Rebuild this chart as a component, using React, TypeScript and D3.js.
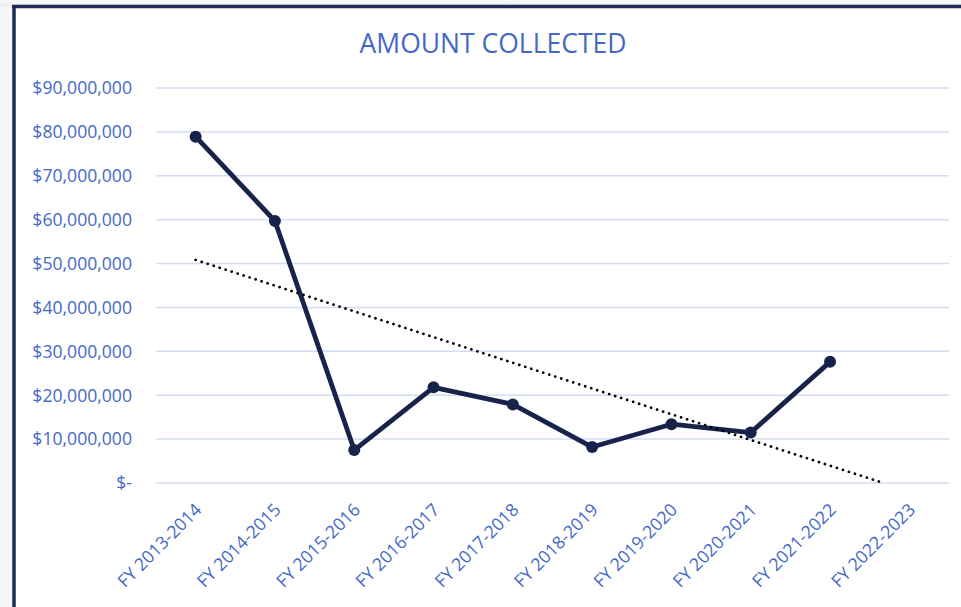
import React from "react";
import * as d3 from "d3";

const categories = [
  "FY 2013-2014", "FY 2014-2015", "FY 2015-2016", "FY 2016-2017", "FY 2017-2018",
  "FY 2018-2019", "FY 2019-2020", "FY 2020-2021", "FY 2021-2022", "FY 2022-2023",
];
const amounts: (number | null)[] = [
  78.9e6, 59.7e6, 7.5e6, 21.8e6, 17.9e6, 8.2e6, 13.4e6, 11.5e6, 27.6e6, null,
];
const yTicks = [0, 10e6, 20e6, 30e6, 40e6, 50e6, 60e6, 70e6, 80e6, 90e6];
const title = "AMOUNT COLLECTED";

const W = 961, H = 607;
const plot = { left: 156, right: 949, top: 88, bottom: 483 };
const TEXT = "#4469C6";
const LINE = "#18234B";
const FONT = "'Open Sans', sans-serif";

export default function App() {
  const x = d3.scaleBand<string>().domain(categories).range([plot.left, plot.right]);
  const cx = (c: string) => (x(c) as number) + x.bandwidth() / 2;
  const y = d3.scaleLinear().domain([0, 90e6]).range([plot.bottom, plot.top]);
  const fmt = (v: number) => (v === 0 ? "$-" : "$" + d3.format(",")(v));

  const pts = categories
    .map((c, i) => ({ c, i: i + 1, v: amounts[i] }))
    .filter((p) => p.v != null) as { c: string; i: number; v: number }[];

  const line = d3
    .line<{ c: string; v: number }>()
    .x((d) => cx(d.c))
    .y((d) => y(d.v));

  // linear trendline (least squares), forecast forward one period, clipped at the axis
  const n = pts.length;
  const mx = d3.mean(pts, (p) => p.i) as number;
  const my = d3.mean(pts, (p) => p.v) as number;
  const sxy = d3.sum(pts, (p) => (p.i - mx) * (p.v - my));
  const sxx = d3.sum(pts, (p) => (p.i - mx) ** 2);
  const slope = sxy / sxx;
  const icpt = my - slope * mx;
  const idxScale = d3.scaleLinear().domain([1, categories.length]).range([cx(categories[0]), cx(categories[categories.length - 1])]);
  const x0 = 1;
  let x1 = n + 1;
  if (icpt + slope * x1 < 0) x1 = -icpt / slope;
  const tx1 = idxScale(x0), ty1 = y(icpt + slope * x0);
  const tx2 = idxScale(x1), ty2 = y(icpt + slope * x1);

  return (
    <svg width={W} height={H} style={{ position: "absolute", left: 0, top: 0, display: "block" }}>
      <defs>
        <linearGradient id="bgTop" x1="0" y1="0" x2="0" y2="1">
          <stop offset="0" stopColor="#f7f7f7" />
          <stop offset="1" stopColor="#ececec" />
        </linearGradient>
      </defs>
      <rect x={0} y={0} width={W} height={H} fill="#f6f6f6" />
      <rect x={0} y={0} width={W} height={7} fill="url(#bgTop)" />
      <rect x={14} y={7} width={W - 14} height={H - 7} fill="#ffffff" />
      <line x1={12} x2={W} y1={6.5} y2={6.5} stroke="#1E2A56" strokeWidth={3.5} />
      <line x1={14} x2={14} y1={5} y2={H} stroke="#1E2A56" strokeWidth={3.5} />

      <text x={493} y={53} textAnchor="middle" fill={TEXT} fontFamily={FONT} fontSize={26.5}>
        {title}
      </text>

      {yTicks.map((t) => (
        <g key={t}>
          <line x1={plot.left} x2={plot.right} y1={y(t)} y2={y(t)} stroke="#D2DCF3" strokeWidth={1.5} />
          <text x={132} y={y(t)} dy="0.36em" textAnchor="end" fill={TEXT} fontFamily={FONT} fontSize={17.6}>
            {fmt(t)}
          </text>
        </g>
      ))}

      {categories.map((c) => (
        <text
          key={c}
          transform={`translate(${cx(c) + 7},${plot.bottom + 28}) rotate(-45)`}
          textAnchor="end"
          fill={TEXT}
          fontFamily={FONT}
          fontSize={17.6}
        >
          {c}
        </text>
      ))}

      <path d={line(pts) as string} fill="none" stroke={LINE} strokeWidth={4.8} strokeLinejoin="round" />
      {pts.map((p) => (
        <circle key={p.c} cx={cx(p.c)} cy={y(p.v)} r={6} fill={LINE} />
      ))}

      <line
        x1={tx1}
        y1={ty1}
        x2={tx2}
        y2={ty2}
        stroke="#000"
        strokeWidth={2.7}
        strokeDasharray="0.1 6.2"
        strokeLinecap="round"
      />
    </svg>
  );
}
